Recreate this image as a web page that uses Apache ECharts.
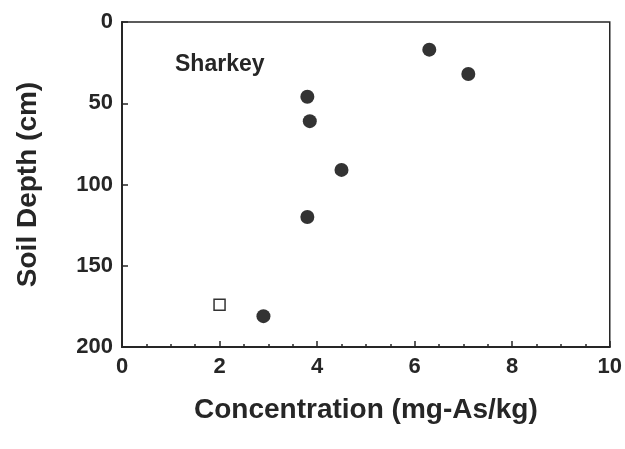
<!DOCTYPE html>
<html>
<head>
<meta charset="utf-8">
<script src="https://cdn.jsdelivr.net/npm/echarts@6/dist/echarts.min.js"></script>
<style>
html, body { margin: 0; padding: 0; background: #fff; }
#chart { width: 625px; height: 449px; }
</style>
</head>
<body>
<div id="chart"></div>
<script>
// Sharkey soil profile: concentration (x) vs depth (y)
const filledConc = [6.3, 7.1, 3.8, 3.85, 4.5, 3.8, 2.9];
const filledDepth = [17, 32, 46, 61, 91, 120, 181];
const openConc = [2.0];
const openDepth = [174];
const xTicks = [0, 2, 4, 6, 8, 10];
const yTicks = [0, 50, 100, 150, 200];

const zip = (a, b) => a.map((v, i) => [v, b[i]]);

const chart = echarts.init(document.getElementById('chart'));
const font = 'Liberation Sans, Arial, sans-serif';
const ink = '#262626';

chart.setOption({
  animation: false,
  title: {
    text: 'Sharkey',
    left: 170, top: 48,
    textStyle: { fontFamily: font, fontWeight: 'bold', fontSize: 23, color: ink }
  },
  grid: {
    left: 122, right: 11, top: 22, bottom: 102,
    show: true, borderColor: ink, borderWidth: 1.5, backgroundColor: 'transparent'
  },
  xAxis: {
    type: 'value', position: 'bottom',
    min: xTicks[0], max: xTicks[xTicks.length - 1], interval: 2,
    name: 'Concentration (mg-As/kg)', nameLocation: 'middle', nameGap: 49,
    nameTextStyle: { fontFamily: font, fontWeight: 'bold', fontSize: 28, color: ink },
    axisLine: { onZero: false, lineStyle: { color: ink, width: 2 } },
    axisTick: { inside: true, length: 6, lineStyle: { color: ink, width: 1.5 } },
    minorTick: { show: true, splitNumber: 4, length: 3, lineStyle: { color: ink, width: 1.5 } },
    axisLabel: { fontFamily: font, fontWeight: 'bold', fontSize: 22, color: ink, margin: 9 },
    splitLine: { show: false }
  },
  yAxis: {
    type: 'value', inverse: true, position: 'left',
    min: yTicks[0], max: yTicks[yTicks.length - 1], interval: 50,
    name: 'Soil Depth (cm)', nameLocation: 'middle', nameGap: 80, nameRotate: 90,
    nameTextStyle: { fontFamily: font, fontWeight: 'bold', fontSize: 28, color: ink },
    axisLine: { onZero: false, lineStyle: { color: ink, width: 2 } },
    axisTick: { inside: true, length: 6, lineStyle: { color: ink, width: 1.5 } },
    axisLabel: { fontFamily: font, fontWeight: 'bold', fontSize: 22, color: ink, margin: 9 },
    splitLine: { show: false }
  },
  series: [
    {
      type: 'scatter',
      data: zip(filledConc, filledDepth),
      symbol: 'circle', symbolSize: 14,
      itemStyle: { color: '#333', opacity: 1 }
    },
    {
      type: 'scatter',
      data: zip(openConc, openDepth),
      symbol: 'rect', symbolSize: 11,
      itemStyle: { color: '#fff', borderColor: '#333', borderWidth: 1.5, opacity: 1 }
    }
  ]
});
</script>
</body>
</html>
